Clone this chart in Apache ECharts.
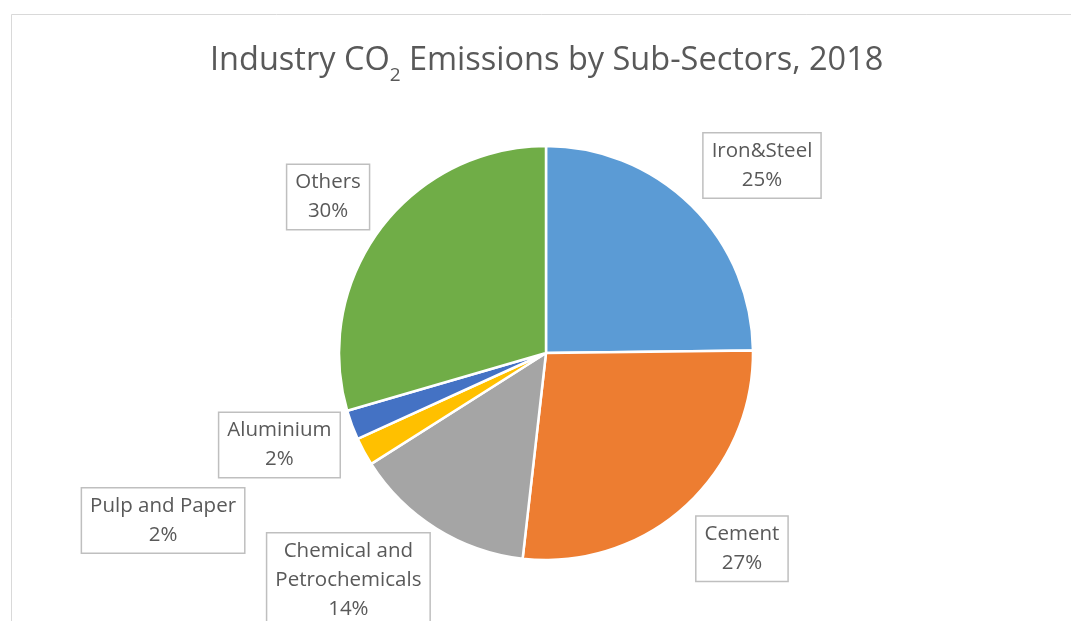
<!DOCTYPE html>
<html>
<head>
<meta charset="utf-8">
<title>Industry CO2 Emissions by Sub-Sectors, 2018</title>
<script src="https://cdn.jsdelivr.net/npm/echarts@6/dist/echarts.min.js"></script>
<style>
    html, body { margin: 0; padding: 0; background: #fff; }
    #main { width: 1071px; height: 621px; }
</style>
</head>
<body>
<div id="main"></div>
<script>
// sub-sectors, clockwise from 12 o'clock
var sectors = ['Iron&Steel', 'Cement', 'Chemical and\nPetrochemicals', 'Pulp and Paper', 'Aluminium', 'Others'];
// share of industry CO2 emissions (%)
var shares = [24.8, 27.0, 14.2, 2.2, 2.3, 29.5];
var colors = ['#5B9BD5', '#ED7D31', '#A5A5A5', '#FFC000', '#4472C4', '#70AD47'];

// where each label box sits: distance from the centre and a small turn off the slice middle (deg)
var labelDist = [286, 277, 301, 418, 282, 268];
var labelTurn = [4.4, -2.9, 9, 4.8, 1.3, -1.3];

var cx = 546, cy = 353, radius = 207;
var font = 'Open Sans';

// middle angle of each slice, measured clockwise from the top
var total = shares.reduce(function (a, b) { return a + b; }, 0);
var midAngle = [];
var acc = 0;
shares.forEach(function (v) {
    midAngle.push((acc + v / 2) / total * 360);
    acc += v;
});

var chart = echarts.init(document.getElementById('main'));

var option = {
    backgroundColor: '#fff',
    animation: false,
    title: {
        text: '{a|Industry CO}{s|2}{a| Emissions by Sub-Sectors, 2018}',
        left: 205,
        top: 30,
        textStyle: {
            rich: {
                a: { fontFamily: font, fontSize: 32.5, fontWeight: 'normal', color: '#595959', lineHeight: 42, verticalAlign: 'bottom' },
                s: { fontFamily: font, fontSize: 19, fontWeight: 'normal', color: '#595959', lineHeight: 42, verticalAlign: 'bottom', padding: [0, 0, -8, 0] }
            }
        }
    },
    graphic: [{
        // chart area frame
        type: 'rect',
        left: 9,
        top: 12,
        shape: { width: 1062, height: 700 },
        style: { fill: 'none', stroke: '#d9d9d9', lineWidth: 1 },
        silent: true
    }],
    series: [{
        type: 'pie',
        center: [cx, cy],
        radius: radius,
        startAngle: 90,
        clockwise: true,
        percentPrecision: 0,
        data: sectors.map(function (name, i) {
            return { name: name, value: shares[i], itemStyle: { color: colors[i] } };
        }),
        itemStyle: { borderColor: '#fff', borderWidth: 2.5 },
        label: {
            show: true,
            position: 'outside',
            formatter: '{b}\n{d}%',
            fontFamily: font,
            fontSize: 20.5,
            lineHeight: 29,
            color: '#595959',
            align: 'center',
            backgroundColor: '#fff',
            borderColor: '#bfbfbf',
            borderWidth: 1.5,
            padding: [3, 8, 3, 8]
        },
        labelLine: { show: false },
        labelLayout: function (params) {
            var i = params.dataIndex;
            var a = (midAngle[i] + labelTurn[i]) * Math.PI / 180;
            return {
                x: cx + labelDist[i] * Math.sin(a),
                y: cy - labelDist[i] * Math.cos(a),
                align: 'center',
                verticalAlign: 'middle'
            };
        },
        emphasis: { disabled: true }
    }]
};

chart.setOption(option);
</script>
</body>
</html>
